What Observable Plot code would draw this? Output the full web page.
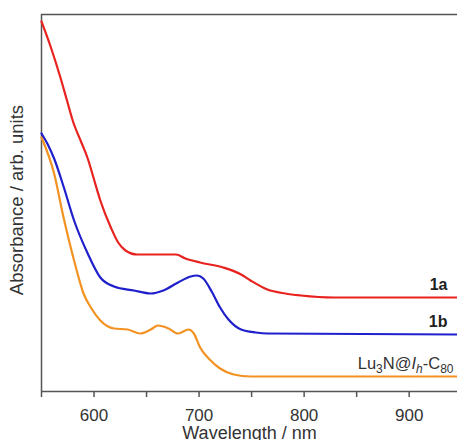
<!DOCTYPE html>
<html>
<head>
<meta charset="utf-8">
<script src="https://cdn.jsdelivr.net/npm/d3@7"></script>
<script src="https://cdn.jsdelivr.net/npm/@observablehq/plot@0.6"></script>
<style>
  html, body { margin: 0; padding: 0; background: #fff; }
  #chart svg { display: block; }
</style>
</head>
<body>
<div id="chart"></div>
<script>
// Wavelength (nm) and absorbance (arb. units)
const nm1a  = [550, 558, 568, 574, 580, 588, 594, 600, 606, 616, 623, 630, 641, 663, 678, 687, 701, 723, 740, 749, 765, 782, 797, 828, 946];
const abs1a = [3.70, 3.47, 3.14, 2.92, 2.70, 2.49, 2.33, 2.12, 1.91, 1.64, 1.49, 1.41, 1.37, 1.37, 1.37, 1.33, 1.29, 1.24, 1.17, 1.11, 1.02, 0.98, 0.96, 0.94, 0.94];

const nm1b  = [550, 556, 562, 571, 581, 594, 606, 619, 638, 654, 666, 680, 692, 698, 704, 712, 720, 728, 740, 754, 765, 946];
const abs1b = [2.58, 2.47, 2.33, 2.05, 1.71, 1.38, 1.14, 1.05, 1.01, 0.98, 1.01, 1.09, 1.15, 1.16, 1.13, 1.00, 0.84, 0.72, 0.62, 0.59, 0.58, 0.57];

const nmLu  = [550, 562, 571, 581, 590, 597, 606, 619, 632, 644, 654, 661, 671, 680, 690, 695, 701, 711, 720, 733, 749, 946];
const absLu = [2.54, 2.18, 1.74, 1.31, 0.98, 0.84, 0.71, 0.63, 0.62, 0.58, 0.62, 0.66, 0.63, 0.58, 0.62, 0.58, 0.44, 0.31, 0.23, 0.17, 0.15, 0.15];

const seriesNames  = ["Lu3N@Ih-C80", "1b", "1a"];
const seriesColors = ["#f29222", "#1f1fcc", "#e8231f"];
const xTicks = [550, 600, 650, 700, 750, 800, 850, 900];
const xLabel = "Wavelength / nm";
const yLabel = "Absorbance / arb. units";

const xDomain = [550, 946];
const yDomain = [0, 3.77];

const toRows = (name, xs, ys) => xs.map((x, i) => ({series: name, nm: x, abs: ys[i]}));
const rows = [
  ...toRows("Lu3N@Ih-C80", nmLu, absLu),
  ...toRows("1b", nm1b, abs1b),
  ...toRows("1a", nm1a, abs1a)
];
const ends = [
  {series: "1a", nm: nm1a[nm1a.length - 1], abs: abs1a[abs1a.length - 1], bold: true},
  {series: "1b", nm: nm1b[nm1b.length - 1], abs: abs1b[abs1b.length - 1], bold: true},
  {series: "Lu3N@Ih-C80", nm: nmLu[nmLu.length - 1], abs: absLu[absLu.length - 1], bold: false}
];

const axisColor = "#555";

const chart = Plot.plot({
  width: 457,
  height: 440,
  marginLeft: 41,
  marginRight: 0,
  marginTop: 14,
  marginBottom: 49,
  style: {fontFamily: "'Liberation Sans', Arial, Helvetica, sans-serif", fontSize: "17px", color: "#333", background: "#fff"},
  x: {domain: xDomain},
  y: {domain: yDomain, axis: null},
  color: {domain: seriesNames, range: seriesColors},
  marks: [
    Plot.ruleY([yDomain[1]], {stroke: axisColor, strokeWidth: 1.5}),
    Plot.ruleX([xDomain[0]], {stroke: axisColor, strokeWidth: 1.5}),
    Plot.ruleY([yDomain[0]], {stroke: axisColor, strokeWidth: 1.5}),
    Plot.axisX({ticks: xTicks, tickFormat: d => d % 100 === 0 ? String(d) : "", tickSize: 6, tickPadding: 11, label: null, stroke: axisColor, strokeWidth: 1.5, fill: "#333"}),
    Plot.line(rows, {x: "nm", y: "abs", z: "series", stroke: "series", strokeWidth: 2.2, curve: "monotone-x"}),
    Plot.text(ends.filter(d => d.bold), {x: "nm", y: "abs", text: "series", textAnchor: "end", dx: -10, dy: -13, fontWeight: "bold", fontSize: 16, fill: "#222"}),
    Plot.text(ends.filter(d => !d.bold), {x: "nm", y: "abs", text: "series", textAnchor: "end", dx: -4, dy: -13, fontSize: 16.5, fill: "#333"}),
    Plot.text([xLabel], {frameAnchor: "bottom", text: d => d, textAnchor: "middle", lineAnchor: "bottom", dy: 47, fontSize: 18, fill: "#333"}),
    Plot.text([yLabel], {frameAnchor: "left", text: d => d, textAnchor: "middle", lineAnchor: "middle", rotate: -90, dx: -24, dy: -3, fontSize: 18.5, fill: "#333"})
  ]
});

// Rich formatting for the fullerene label (subscripts, italic I_h)
d3.select(chart).selectAll("text").each(function() {
  if (this.textContent === "Lu3N@Ih-C80") {
    const t = d3.select(this);
    t.text(null);
    const parts = [
      ["Lu", false, false], ["3", true, false], ["N@", false, false],
      ["I", false, true], ["h", true, true], ["-C", false, false], ["80", true, false]
    ];
    let sub = false;
    for (const [s, isSub, isItal] of parts) {
      const sp = t.append("tspan").text(s);
      if (isSub && !sub) sp.attr("dy", 4);
      if (!isSub && sub) sp.attr("dy", -4);
      if (isSub) sp.attr("font-size", 12);
      if (isItal) sp.attr("font-style", "italic");
      sub = isSub;
    }
  }
});

document.getElementById("chart").appendChild(chart);
</script>
</body>
</html>
